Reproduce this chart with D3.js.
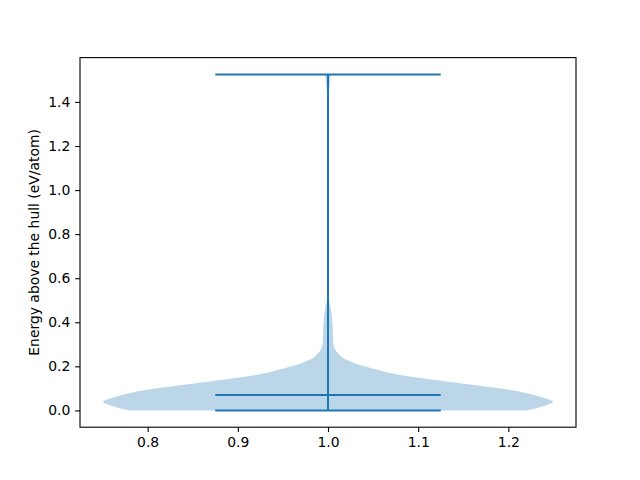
<!DOCTYPE html>
<html>
<head>
<meta charset="utf-8">
<script src="https://cdn.jsdelivr.net/npm/d3@7"></script>
<style>
  html, body { margin: 0; padding: 0; background: #fff; }
  svg { display: block; }
  text { font-family: "DejaVu Sans", sans-serif; fill: #000; }
</style>
</head>
<body>
<svg id="chart" width="640" height="480"></svg>
<script>
// ---- data ----
const position = 1.0;
const violinWidth = 0.5;
// KDE profile: energy (eV/atom) and relative half-width (max = 1)
const energy  = [0.0, 0.01, 0.02, 0.03, 0.04, 0.05, 0.06, 0.07, 0.08, 0.09, 0.10, 0.11, 0.12, 0.13, 0.14, 0.15, 0.16, 0.17, 0.18, 0.19, 0.20, 0.21, 0.22, 0.23, 0.24, 0.26, 0.28, 0.30, 0.35, 0.40, 0.45, 0.48, 0.50, 0.52, 0.56, 0.70, 0.90, 1.10, 1.30, 1.40, 1.45, 1.50, 1.525];
const density = [0.885, 0.925, 0.96, 0.99, 1.005, 0.98, 0.948, 0.914, 0.872, 0.825, 0.76, 0.69, 0.61, 0.53, 0.455, 0.385, 0.325, 0.27, 0.235, 0.195, 0.16, 0.13, 0.104, 0.08, 0.062, 0.042, 0.029, 0.023, 0.022, 0.02, 0.015, 0.009, 0.004, 0.002, 0.001, 0.0005, 0.0003, 0.0003, 0.0004, 0.001, 0.005, 0.01, 0.013];
const statMin = 0.0;
const statMax = 1.525;
const statMean = 0.07;
const xTicks = [0.8, 0.9, 1.0, 1.1, 1.2];
const yTicks = [0.0, 0.2, 0.4, 0.6, 0.8, 1.0, 1.2, 1.4];
const yLabel = "Energy above the hull (eV/atom)";

// ---- layout ----
const L = 80, R = 576, T = 57.6, B = 427.2;
const color = "#1f77b4";
const svg = d3.select("#chart");

const x = d3.scaleLinear().domain([0.725, 1.275]).range([L, R]);
const y = d3.scaleLinear().domain([-0.07625, 1.60125]).range([B, T]);

const profile = energy.map((e, i) => ({ e, w: density[i] }));
const half = violinWidth / 2;

const area = d3.area()
  .y(d => y(d.e))
  .x0(d => x(position - d.w * half))
  .x1(d => x(position + d.w * half))
  .curve(d3.curveBasis);

svg.append("path")
  .datum(profile)
  .attr("d", area)
  .attr("fill", color)
  .attr("fill-opacity", 0.3)
  .attr("stroke", "none");

// vertical bar
const g = svg.append("g").attr("stroke", color).attr("stroke-width", 2);
g.append("line")
  .attr("x1", x(position)).attr("x2", x(position))
  .attr("y1", y(statMin)).attr("y2", y(statMax));
// caps and mean
[statMin, statMax, statMean].forEach(v => {
  g.append("line")
    .attr("x1", x(position - half / 2)).attr("x2", x(position + half / 2))
    .attr("y1", y(v)).attr("y2", y(v));
});

// ---- axes ----
const fs = "13.9px";
const xAxis = d3.axisBottom(x).tickValues(xTicks).tickFormat(d3.format(".1f"))
  .tickSize(4.86).tickPadding(4.86);
const yAxis = d3.axisLeft(y).tickValues(yTicks).tickFormat(d3.format(".1f"))
  .tickSize(4.86).tickPadding(4.86);

const gx = svg.append("g").attr("transform", `translate(0,${B})`).call(xAxis);
const gy = svg.append("g").attr("transform", `translate(${L},0)`).call(yAxis);
[gx, gy].forEach(ax => {
  ax.select(".domain").remove();
  ax.selectAll(".tick line").attr("stroke", "#000").attr("stroke-width", 1.1);
  ax.selectAll(".tick text").attr("font-size", fs).attr("font-family", "DejaVu Sans, sans-serif").attr("fill", "#000");
});

// frame
svg.append("rect")
  .attr("x", L).attr("y", T).attr("width", R - L).attr("height", B - T)
  .attr("fill", "none").attr("stroke", "#000").attr("stroke-width", 1.1);

// y label
svg.append("text")
  .attr("transform", `translate(39,${(T + B) / 2}) rotate(-90)`)
  .attr("text-anchor", "middle")
  .attr("font-size", fs)
  .text(yLabel);
</script>
</body>
</html>
